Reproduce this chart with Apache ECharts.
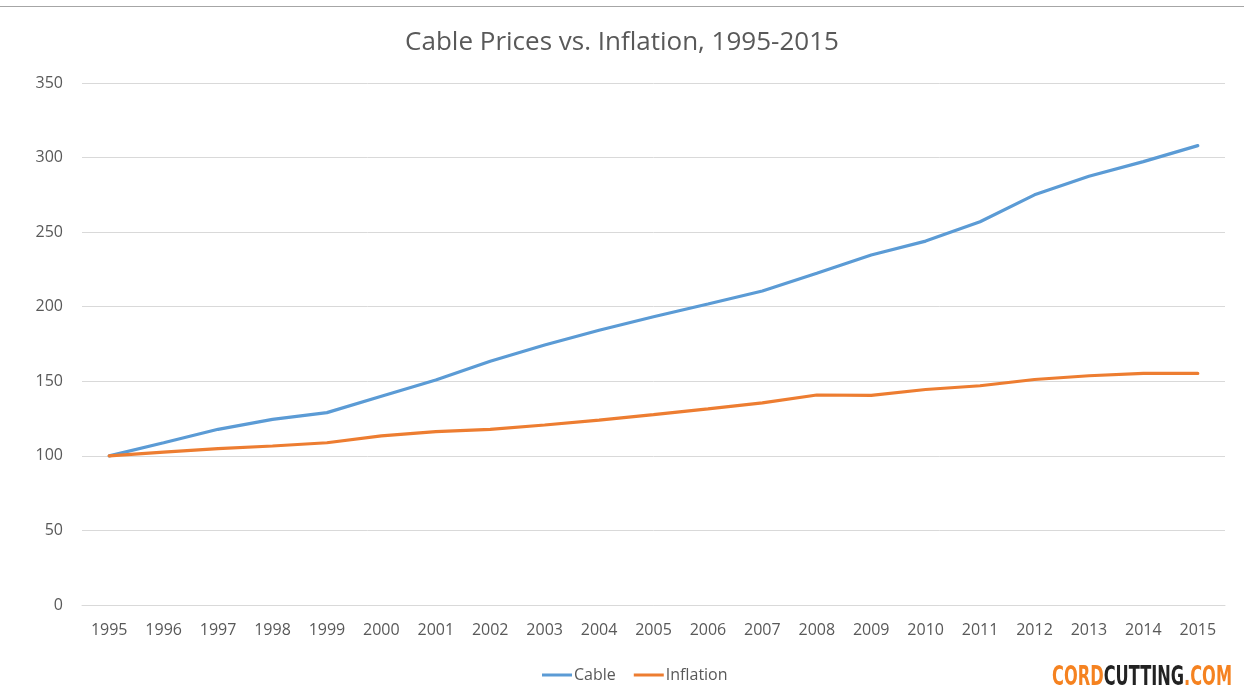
<!DOCTYPE html>
<html>
<head>
<meta charset="utf-8">
<script src="https://cdn.jsdelivr.net/npm/echarts@6/dist/echarts.min.js"></script>
<style>
  html, body { margin: 0; padding: 0; background: #fff; }
  #chart { width: 1244px; height: 691px; }
</style>
</head>
<body>
<div id="chart"></div>
<script>
const years = ['1995', '1996', '1997', '1998', '1999', '2000', '2001', '2002', '2003', '2004', '2005',
  '2006', '2007', '2008', '2009', '2010', '2011', '2012', '2013', '2014', '2015'];
const cable = [100, 108.8, 117.8, 124.5, 129, 140, 150.9, 163.4, 174.3, 184.2, 193.3,
  201.8, 210.5, 222.4, 234.7, 244, 257, 275, 287.5, 297.3, 308];
const inflation = [100, 102.5, 104.8, 106.6, 108.8, 113.4, 116.2, 117.8, 120.7, 124, 127.6,
  131.5, 135.5, 140.8, 140.5, 144.5, 147, 151.2, 153.7, 155.3, 155.3];

const FONT = '"Open Sans", "Noto Sans", sans-serif';
const LOGO_FONT = '"Liberation Sans Narrow", "DejaVu Sans Condensed", sans-serif';
const chart = echarts.init(document.getElementById('chart'));

chart.setOption({
  animation: false,
  textStyle: { fontFamily: FONT },
  title: {
    text: 'Cable Prices vs. Inflation, 1995-2015',
    left: 'center',
    top: 25,
    textStyle: { fontFamily: FONT, fontSize: 26, fontWeight: 'normal', color: '#595959' }
  },
  legend: {
    data: ['Cable', 'Inflation'],
    left: 537,
    top: 662,
    icon: 'rect',
    itemWidth: 30,
    itemHeight: 3,
    itemGap: 18,
    textStyle: { fontFamily: FONT, fontSize: 16, color: '#595959', padding: [0, 0, 0, -3] }
  },
  grid: { left: 82, right: 19, top: 83, bottom: 86, containLabel: false },
  xAxis: {
    type: 'category',
    data: years,
    boundaryGap: true,
    axisLine: { lineStyle: { color: '#d9d9d9' } },
    axisTick: { show: false },
    axisLabel: { color: '#595959', fontSize: 16, margin: 17, fontFamily: FONT }
  },
  yAxis: {
    type: 'value',
    min: 0,
    max: 350,
    interval: 50,
    axisLine: { show: false },
    axisTick: { show: false },
    axisLabel: { color: '#595959', fontSize: 16, margin: 19, fontFamily: FONT },
    splitLine: { lineStyle: { color: '#d9d9d9', width: 1 } }
  },
  series: [
    {
      name: 'Cable',
      type: 'line',
      data: cable,
      symbol: 'none',
      lineStyle: { color: '#5B9BD5', width: 3.2, cap: 'round' },
      itemStyle: { color: '#5B9BD5' }
    },
    {
      name: 'Inflation',
      type: 'line',
      data: inflation,
      symbol: 'none',
      lineStyle: { color: '#ED7D31', width: 3.2, cap: 'round' },
      itemStyle: { color: '#ED7D31' }
    }
  ],
  graphic: [
    {
      type: 'rect',
      shape: { x: 0, y: 6, width: 1244, height: 1 },
      style: { fill: '#a6a6a6' },
      silent: true
    },
    {
      // site logo, stretched vertically to look condensed
      type: 'text',
      x: 1232,
      y: 678,
      scaleY: 1.45,
      originX: 0,
      originY: 0,
      style: {
        text: '{o|CORD}{d|CUTTING}{o|.COM}',
        align: 'right',
        verticalAlign: 'middle',
        rich: {
          o: { fill: '#F58220', fontSize: 18, fontWeight: 'bold', fontFamily: LOGO_FONT },
          d: { fill: '#222222', fontSize: 18, fontWeight: 'bold', fontFamily: LOGO_FONT }
        }
      },
      silent: true
    }
  ]
});
</script>
</body>
</html>
